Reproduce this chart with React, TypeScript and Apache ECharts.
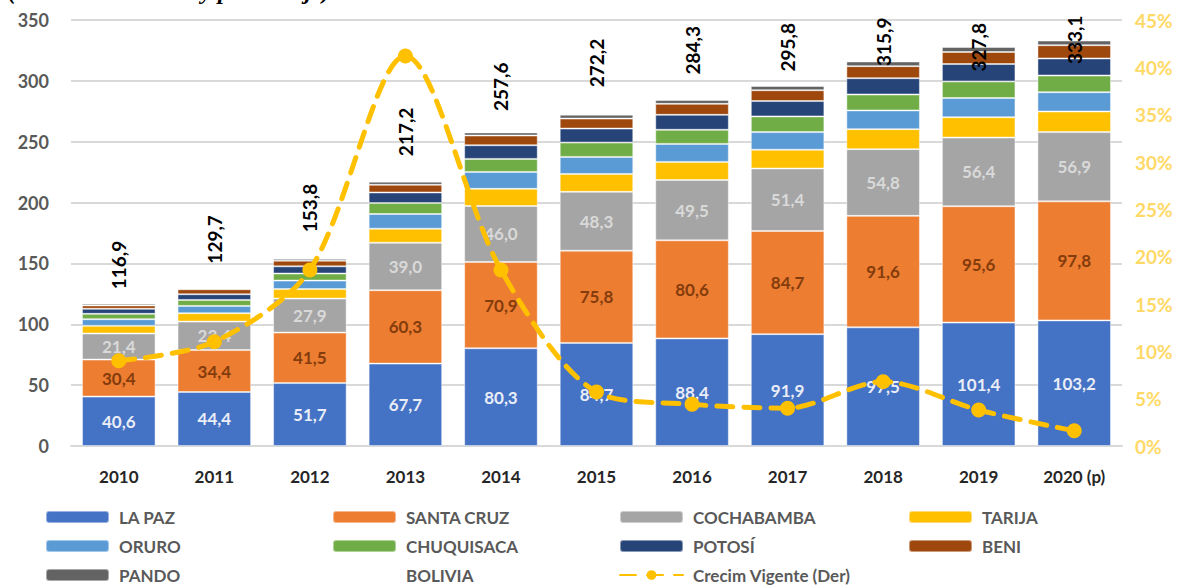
import React, { useEffect, useRef } from "react";
import * as echarts from "echarts";

const years = ["2010", "2011", "2012", "2013", "2014", "2015", "2016", "2017", "2018", "2019", "2020 (p)"];
const laPaz = [40.6, 44.4, 51.7, 67.7, 80.3, 84.7, 88.4, 91.9, 97.5, 101.4, 103.2];
const santaCruz = [30.4, 34.4, 41.5, 60.3, 70.9, 75.8, 80.6, 84.7, 91.6, 95.6, 97.8];
const cochabamba = [21.4, 23.4, 27.9, 39.0, 46.0, 48.3, 49.5, 51.4, 54.8, 56.4, 56.9];
const tarija = [6.3, 6.9, 7.8, 11.5, 14.1, 14.7, 14.9, 15.4, 16.4, 16.7, 16.9];
const oruro = [5.5, 6.0, 7.0, 12.1, 13.9, 14.0, 14.8, 14.5, 15.4, 15.8, 15.9];
const chuquisaca = [4.4, 4.9, 5.8, 9.0, 10.7, 11.8, 11.6, 12.9, 13.1, 13.6, 13.7];
const potosi = [4.1, 4.7, 5.9, 8.7, 11.2, 11.5, 12.3, 12.6, 13.4, 14.3, 14.0];
const beni = [2.8, 4.1, 4.7, 6.3, 8.0, 8.2, 9.0, 8.9, 9.9, 9.9, 10.9];
const pando = [1.4, 0.9, 1.5, 2.6, 2.5, 3.2, 3.2, 3.5, 3.8, 4.1, 3.8];
const bolivia = [116.9, 129.7, 153.8, 217.2, 257.6, 272.2, 284.3, 295.8, 315.9, 327.8, 333.1];
const growth = [9.0, 11.0, 18.6, 41.2, 18.6, 5.7, 4.4, 4.0, 6.8, 3.8, 1.6];

const leftTicks = { min: 0, max: 350, interval: 50 };
const rightTicks = { min: 0, max: 45, interval: 5 };

const legendColumns = [
  ["LA PAZ", "ORURO", "PANDO"],
  ["SANTA CRUZ", "CHUQUISACA", "BOLIVIA"],
  ["COCHABAMBA", "POTOSÍ", "Crecim Vigente (Der)"],
  ["TARIJA", "BENI"],
];

const fmt = (v: number) => v.toFixed(1).replace(".", ",");

export default function App() {
  const ref = useRef<HTMLDivElement>(null);
  useEffect(() => {
    const chart = echarts.init(ref.current!, null, { renderer: "svg" });
    const FONT = "Lato, 'Open Sans', sans-serif";
    const segLabel = (color: string) => ({
      show: true,
      position: "inside",
      color,
      fontFamily: FONT,
      fontWeight: "bold",
      fontSize: 17,
      formatter: (p: any) => fmt(p.value),
    });
    const bar = (name: string, data: number[], color: string, label?: any) => ({
      name,
      type: "bar",
      stack: "total",
      data,
      barCategoryGap: "23%",
      itemStyle: { color, borderColor: "rgba(255,255,255,0.45)", borderWidth: 1 },
      label: label || { show: false },
      emphasis: { disabled: true },
    });
    // label distances for total labels (Excel pushes top ones down)
    const distances = [14, 24, 26, 25, 21, 27, 25, 14, -5, -25, -24];
    const legendLefts = [45, 332, 619, 908];
    const option: any = {
      animation: false,
      textStyle: { fontFamily: FONT },
      graphic: [
        {
          type: "text",
          x: 8,
          y: -21,
          style: {
            text: "(En millones de Bs y porcentaje)",
            font: "italic bold 24px 'Liberation Serif', serif",
            fill: "#000",
          },
        },
      ],
      grid: { left: 71, right: 60, top: 20, bottom: 140 },
      legend: legendColumns.map((col, i) => ({
        data: col,
        orient: "vertical",
        left: legendLefts[i],
        top: 507,
        width: 280,
        height: 120,
        padding: 0,
        itemWidth: 63,
        itemHeight: 12,
        itemGap: 9,
        selectedMode: false,
        textStyle: {
          fontFamily: FONT,
          fontWeight: "bold",
          fontSize: 17,
          lineHeight: 20,
          color: "#595959",
          padding: [0, 0, 0, 5],
        },
      })),
      xAxis: {
        type: "category",
        data: years,
        axisLine: { show: true, lineStyle: { color: "#D9D9D9", width: 2 } },
        axisTick: { show: false },
        axisLabel: { color: "#262626", fontWeight: "bold", fontSize: 17, margin: 22, fontFamily: FONT },
      },
      yAxis: [
        {
          type: "value",
          ...leftTicks,
          axisLine: { show: false },
          axisTick: { show: false },
          splitLine: { lineStyle: { color: "#D9D9D9", width: 2 } },
          axisLabel: { color: "#595959", fontWeight: "bold", fontSize: 18, margin: 22, fontFamily: FONT },
        },
        {
          type: "value",
          ...rightTicks,
          position: "right",
          axisLine: { show: false },
          axisTick: { show: false },
          splitLine: { show: false },
          axisLabel: {
            color: "#FFD966",
            fontWeight: "bold",
            fontSize: 19,
            margin: 13,
            fontFamily: FONT,
            formatter: "{value}%",
          },
        },
      ],
      series: [
        bar("LA PAZ", laPaz, "#4472C4", segLabel("#E9EDF7")),
        bar("SANTA CRUZ", santaCruz, "#ED7D31", segLabel("#843C0C")),
        bar("COCHABAMBA", cochabamba, "#A5A5A5", segLabel("#D9D9D9")),
        bar("TARIJA", tarija, "#FFC000"),
        bar("ORURO", oruro, "#5B9BD5"),
        bar("CHUQUISACA", chuquisaca, "#70AD47"),
        bar("POTOSÍ", potosi, "#264478"),
        bar("BENI", beni, "#9E480E"),
        bar("PANDO", pando, "#636363"),
        {
          name: "BOLIVIA",
          type: "line",
          yAxisIndex: 0,
          data: bolivia.map((v, i) => ({ value: v, label: { distance: distances[i] } })),
          symbol: "circle",
          symbolSize: 1,
          showAllSymbol: true,
          itemStyle: { color: "transparent" },
          lineStyle: { width: 0, color: "transparent" },
          z: 5,
          label: {
            show: true,
            position: "top",
            rotate: 90,
            align: "left",
            verticalAlign: "middle",
            color: "#000",
            fontFamily: FONT,
            fontWeight: "bold",
            fontSize: 19,
            formatter: (p: any) => fmt(p.value),
          },
          emphasis: { disabled: true },
        },
        {
          name: "Crecim Vigente (Der)",
          type: "line",
          yAxisIndex: 1,
          data: growth,
          smooth: 0.3,
          symbol: "circle",
          symbolSize: 15,
          showAllSymbol: true,
          z: 10,
          itemStyle: { color: "#FFC000" },
          lineStyle: { color: "#FFC000", width: 5, type: [16, 11], cap: "round" },
          emphasis: { disabled: true },
        },
      ],
    };
    chart.setOption(option);
    return () => chart.dispose();
  }, []);
  return (
    <div
      ref={ref}
      style={{ position: "absolute", left: 0, top: 0, width: 1182, height: 586, background: "#fff" }}
    />
  );
}
